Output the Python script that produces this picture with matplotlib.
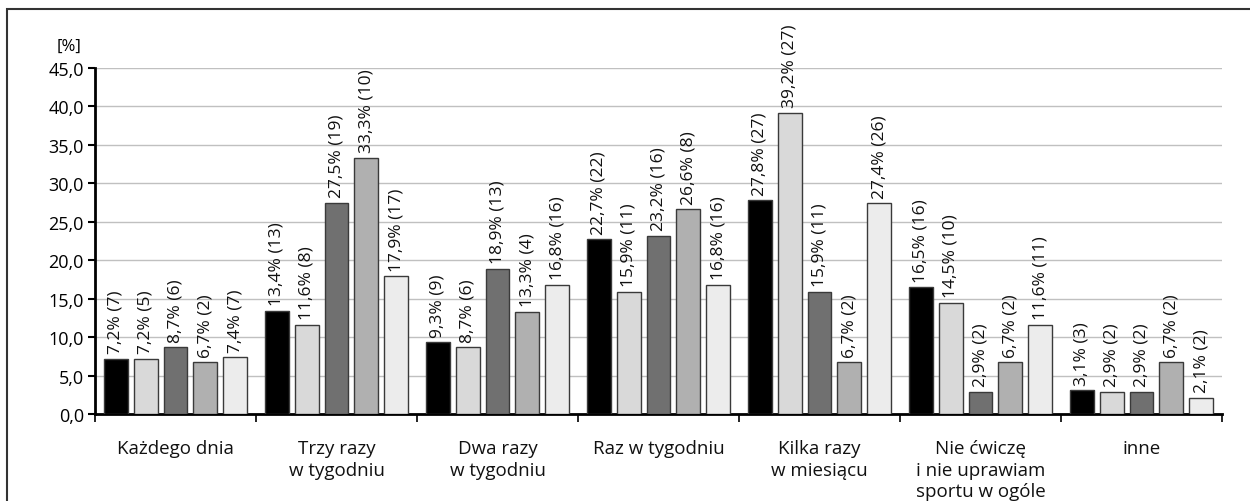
import numpy as np
import matplotlib
matplotlib.use('Agg')
import matplotlib.pyplot as plt
from matplotlib.patches import Rectangle

plt.rcParams['font.family'] = ['Open Sans', 'DejaVu Sans']

# kategorie i wartości (procent, liczba osób) dla pięciu grup
kategorie = ['Każdego dnia', 'Trzy razy\nw tygodniu', 'Dwa razy\nw tygodniu',
             'Raz w tygodniu', 'Kilka razy\nw miesiącu',
             'Nie ćwiczę\ni nie uprawiam\nsportu w ogóle', 'inne']

proc_1 = [7.2, 13.4, 9.3, 22.7, 27.8, 16.5, 3.1]
proc_2 = [7.2, 11.6, 8.7, 15.9, 39.2, 14.5, 2.9]
proc_3 = [8.7, 27.5, 18.9, 23.2, 15.9, 2.9, 2.9]
proc_4 = [6.7, 33.3, 13.3, 26.6, 6.7, 6.7, 6.7]
proc_5 = [7.4, 17.9, 16.8, 16.8, 27.4, 11.6, 2.1]

n_1 = [7, 13, 9, 22, 27, 16, 3]
n_2 = [5, 8, 6, 11, 27, 10, 2]
n_3 = [6, 19, 13, 16, 11, 2, 2]
n_4 = [2, 10, 4, 8, 2, 2, 2]
n_5 = [7, 17, 16, 16, 26, 11, 2]

serie = [proc_1, proc_2, proc_3, proc_4, proc_5]
liczby = [n_1, n_2, n_3, n_4, n_5]
kolory = ['#000000', '#d9d9d9', '#707070', '#b0b0b0', '#ececec']

fig = plt.figure(figsize=(12.5, 5.02), dpi=100)
ax = fig.add_axes([95/1250, 1 - 415/502, (1222 - 95)/1250, (415 - 69)/502])

# ramka wokół całego wykresu
fig.patches.append(Rectangle((7/1250, -0.05), 1.1, 1 - 10/502 + 0.05,
                             transform=fig.transFigure, fill=False,
                             edgecolor='#333333', linewidth=1.5))

x = np.arange(len(kategorie))
szer = 0.148
krok = 0.185
for i, (wart, n) in enumerate(zip(serie, liczby)):
    pos = x + (i - 2) * krok
    ax.bar(pos, wart, width=szer, color=kolory[i], edgecolor='#3a3a3a',
           linewidth=1, zorder=3)
    for px, v, c in zip(pos, wart, n):
        etykieta = f'{v:.1f}%'.replace('.', ',') + f' ({c})'
        ax.annotate(etykieta, (px, v), xytext=(0, 4), textcoords='offset points',
                    rotation=90, ha='center', va='bottom', fontsize=12.5,
                    color='#111111')

ax.set_xlim(-0.5, len(kategorie) - 0.5)
ax.set_ylim(0, 45)
ax.set_yticks(np.arange(0, 45.1, 5))
ax.set_yticklabels([f'{t:.1f}'.replace('.', ',') for t in np.arange(0, 45.1, 5)],
                   fontsize=13)
ax.grid(axis='y', color='#c0c0c0', linewidth=1, zorder=0)

# podziałki między grupami
ax.set_xticks(np.arange(len(kategorie) + 1) - 0.5)
ax.set_xticklabels([])
ax.tick_params(axis='x', direction='out', length=6, width=1.2, color='black')
ax.tick_params(axis='y', direction='out', length=5, width=1.5, pad=3)
for xi, k in zip(x, kategorie):
    ax.text(xi, -3.3, k, ha='center', va='top', fontsize=13.5, linespacing=1.25,
            color='#111111')

for s in ['top', 'right']:
    ax.spines[s].set_visible(False)
ax.spines['left'].set_linewidth(2)
ax.spines['bottom'].set_linewidth(2)

ax.text(-0.023, 1.065, '[%]', transform=ax.transAxes, ha='center', va='center',
        fontsize=12)

fig.savefig('out.png', dpi=100)
